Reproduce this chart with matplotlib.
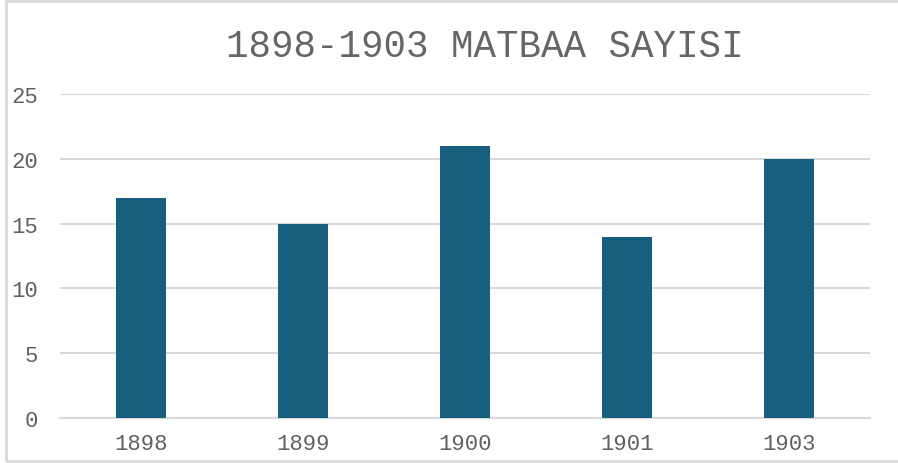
import matplotlib.pyplot as plt
from matplotlib.patches import Rectangle

years = ['1898', '1899', '1900', '1901', '1903']
counts = [17, 15, 21, 14, 20]
yticks = [0, 5, 10, 15, 20, 25]

W, H = 898, 464
fig = plt.figure(figsize=(W / 100, H / 100), dpi=100)
ax = fig.add_axes([60 / W, (H - 419) / H, 810 / W, 324 / H])

ax.bar(range(len(years)), counts, width=0.31, color='#175E7F', zorder=3)
ax.set_xlim(-0.5, len(years) - 0.5)
ax.set_ylim(0, 25)
ax.set_yticks(yticks)
ax.set_xticks(range(len(years)))
ax.set_xticklabels(years)
ax.grid(axis='y', color='#D9D9D9', linewidth=1.5, zorder=0)
for s in ax.spines.values():
    s.set_visible(False)
ax.spines['bottom'].set_visible(True)
ax.spines['bottom'].set_color('#D9D9D9')
ax.spines['bottom'].set_linewidth(1.5)
ax.tick_params(length=0, labelsize=16, labelcolor='#606060')
ax.tick_params(axis='x', pad=11)
ax.tick_params(axis='y', pad=16)
for lab in ax.get_xticklabels() + ax.get_yticklabels():
    lab.set_family('Liberation Mono')

fig.text(485 / W, 1 - 47 / H, '1898-1903 MATBAA SAYISI', ha='center', va='center',
         fontsize=27, color='#666666', family='Liberation Mono')

fig.patches.append(Rectangle((6 / W, 2 / H), 1.0, 460 / H, transform=fig.transFigure,
                             fill=False, edgecolor='#D9D9D9', linewidth=2))

fig.savefig('out.png', dpi=100)
